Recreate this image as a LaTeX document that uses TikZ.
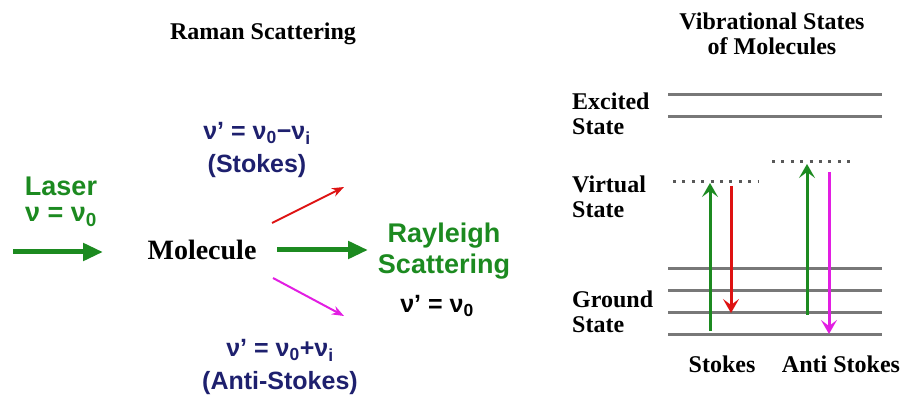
\documentclass[tikz,border=0pt]{standalone}
\usepackage{fontspec}
\setmainfont{Liberation Serif}
\setsansfont{Liberation Sans}
\usetikzlibrary{arrows.meta, positioning}
\definecolor{lasergreen}{RGB}{28,138,32}
\definecolor{eqnavy}{RGB}{30,32,110}
\definecolor{stokesred}{RGB}{222,18,18}
\definecolor{antimag}{RGB}{226,30,226}
\definecolor{levelgray}{RGB}{120,120,120}

\begin{document}
\begin{tikzpicture}[
  x=1pt, y=-1pt,
  heading/.style={font=\bfseries\fontsize{24}{25}\selectfont, anchor=base, align=center, inner sep=0pt},
  statelabel/.style={font=\bfseries\fontsize{24}{25}\selectfont, anchor=base west, align=left, inner sep=0pt},
  greentext/.style={font=\sffamily\bfseries\fontsize{27}{31}\selectfont, text=lasergreen, anchor=base,
                    align=center, inner sep=0pt},
  eqn/.style={font=\sffamily\bfseries\fontsize{25}{33}\selectfont, text=eqnavy, anchor=base,
              align=center, inner sep=0pt},
  fatarrow/.style={line width=5pt, lasergreen, -{Triangle[length=20pt, width=17pt]}},
  thinarrow/.style={line width=2pt, -{Stealth[length=12pt, width=9pt]}},
  level/.style={line width=3pt, levelgray},
  virtual/.style={line width=3pt, black!65, dash pattern=on 3pt off 6.4pt},
  jump/.style={line width=3pt, -{Stealth[length=14pt, width=16pt, inset=6pt]}}
]
  \useasboundingbox (0,0) rectangle (906,398);

  %% Left part: scattering
  \node[heading] (raman) at (263,40) {Raman Scattering};
  \node[greentext, font=\sffamily\bfseries\fontsize{27}{26}\selectfont] (laser) at (61,222)
       {Laser\\ν = ν\textsubscript{0}};
  \node[heading, font=\bfseries\fontsize{28}{30}\selectfont] (mol) at (202,260) {Molecule};
  \node[greentext] (ray) at (444,274) {Rayleigh\\Scattering};
  \node[eqn, text=black] (rayeq) at (437,313) {ν' = ν\textsubscript{0}};
  \node[eqn] (stokeseq) at (257,173) {ν' = ν\textsubscript{0}−ν\textsubscript{i}\\(Stokes)};
  \node[eqn] (antieq) at (280,390) {ν' = ν\textsubscript{0}+ν\textsubscript{i}\\(Anti-Stokes)};

  \coordinate (lasera) at (13,252);
  \coordinate (laserb) at (103,252);
  \coordinate (raya) at (277,250);
  \coordinate (rayb) at (368,250);
  \coordinate (reda) at (272,223);
  \coordinate (redb) at (344,187);
  \coordinate (maga) at (273,278);
  \coordinate (magb) at (344,316);

  \draw[fatarrow] (lasera) -- (laserb);
  \draw[fatarrow] (raya) -- (rayb);
  \draw[thinarrow, stokesred] (reda) -- (redb);
  \draw[thinarrow, antimag] (maga) -- (magb);

  %% Right part: energy levels
  \node[heading] (vib) at (772,55) {Vibrational States\\of Molecules};
  \node[statelabel] (excited) at (572,135) {Excited\\State};
  \node[statelabel] (virt) at (572,218) {Virtual\\State};
  \node[statelabel] (ground) at (572,333) {Ground\\State};
  \node[heading] (stokes) at (722,373) {Stokes};
  \node[heading] (anti) at (841,373) {Anti Stokes};

  \foreach \y in {95,117,269,291,313,335}
    \draw[level] (668,\y) -- (882,\y);
  \draw[virtual] (673,182) -- (758,182);
  \draw[virtual] (772,162) -- (855,162);

  \coordinate (sup0) at (710,331);
  \coordinate (sup1) at (710,183);
  \coordinate (sdn0) at (731,186);
  \coordinate (sdn1) at (731,313);
  \coordinate (aup0) at (807,315);
  \coordinate (aup1) at (807,164);
  \coordinate (adn0) at (829,172);
  \coordinate (adn1) at (829,334);

  \draw[jump, lasergreen] (sup0) -- (sup1);
  \draw[jump, stokesred] (sdn0) -- (sdn1);
  \draw[jump, lasergreen] (aup0) -- (aup1);
  \draw[jump, antimag] (adn0) -- (adn1);
\end{tikzpicture}
\end{document}
